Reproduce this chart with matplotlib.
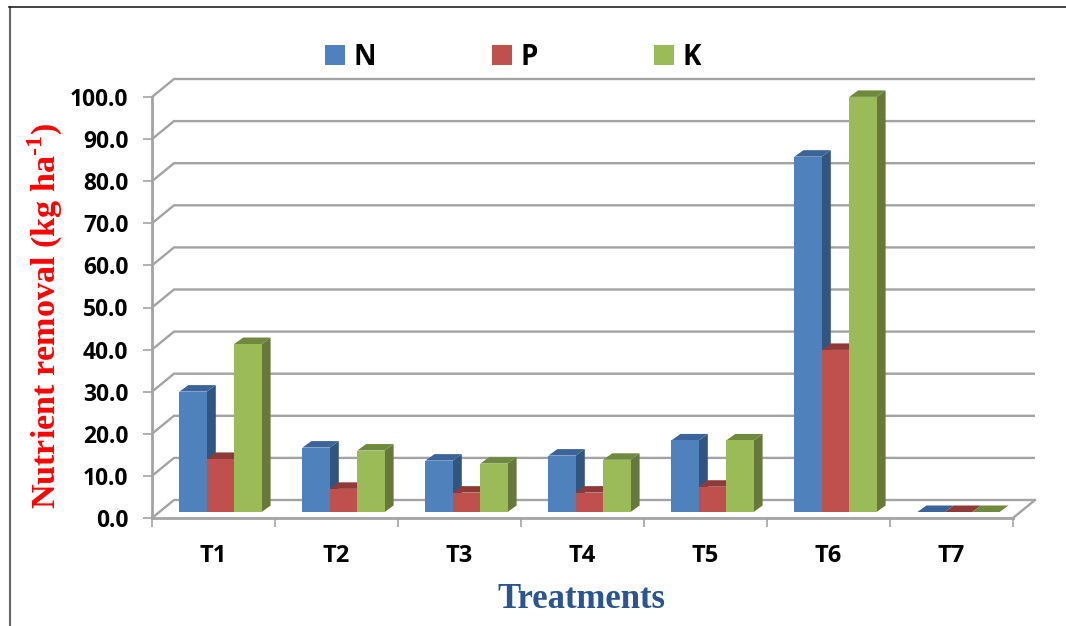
# Nutrient removal chart, drawn as a fake 3D column chart
import matplotlib
matplotlib.use('Agg')
import numpy as np
import matplotlib.pyplot as plt
from matplotlib.lines import Line2D
from matplotlib.patches import Patch

# DATA
treatments = ['T1', 'T2', 'T3', 'T4', 'T5', 'T6', 'T7']
n_values = [28.6, 15.3, 12.2, 13.4, 17.0, 84.4, 0.0]
p_values = [12.6, 5.5, 4.6, 4.6, 6.0, 38.5, 0.0]
k_values = [39.9, 14.6, 11.5, 12.4, 17.0, 98.6, 0.0]
y_ticks = [0, 10, 20, 30, 40, 50, 60, 70, 80, 90, 100]

# LAYOUT (pixels of the 1066x626 picture)
W, H = 1066, 626
LEFT, RIGHT, BOTTOM, TOP = 152, 1013, 518, 97
PX_X = 7 / (RIGHT - LEFT)    # data units per pixel along x
PX_Y = 100 / (BOTTOM - TOP)  # data units per pixel along y

wall_dx, wall_dy = 22 * PX_X, 18 * PX_Y  # depth of the walls
bar_dx, bar_dy = 9 * PX_X, 6.5 * PX_Y    # depth of the bars
start_dx, start_dy = 7 * PX_X, 6 * PX_Y  # bars stand a bit behind the front edge
bar_w = 27.4 * PX_X

GREY = '#a3a3a3'
series = [
    ('N', n_values, '#4f81bd', '#32557f', '#3b659a'),
    ('P', p_values, '#c0504d', '#8a3836', '#8f3a38'),
    ('K', k_values, '#9bbb59', '#66793a', '#6f8a3f'),
]

plt.rcParams['font.family'] = ['Open Sans', 'DejaVu Sans']
plt.rcParams['mathtext.fontset'] = 'custom'
plt.rcParams['mathtext.bf'] = 'Liberation Serif:bold'
plt.rcParams['mathtext.rm'] = 'Liberation Serif:bold'

fig = plt.figure(figsize=(W / 100, H / 100), dpi=100)
ax = fig.add_axes([LEFT / W, (H - BOTTOM) / H, (RIGHT - LEFT) / W, (BOTTOM - TOP) / H])
ax.set_xlim(0, 7)
ax.set_ylim(0, 100)
ax.patch.set_visible(False)

# WALLS AND FLOOR
for v in y_ticks:
    ax.plot([0, wall_dx, 7 + wall_dx], [v, v + wall_dy, v + wall_dy],
            color=GREY, lw=1.7, clip_on=False, zorder=1, solid_capstyle='butt')
ax.plot([7, 7 + wall_dx], [0, wall_dy], color=GREY, lw=1.7, clip_on=False, zorder=1)

# BARS
x = np.arange(len(treatments))
z = 2
for j, (name, values, front, side, top) in enumerate(series):
    for i, v in enumerate(values):
        x0 = x[i] + 0.5 + start_dx + (j - 1.5) * bar_w
        x1 = x0 + bar_w
        y0 = start_dy
        y1 = start_dy + v
        # заливки боковой и верхней граней
        ax.fill([x1, x1 + bar_dx, x1 + bar_dx, x1],
                [y0, y0 + bar_dy, y1 + bar_dy, y1],
                color=side, lw=0, clip_on=False, zorder=z + i * 3)
        ax.fill([x0, x1, x1 + bar_dx, x0 + bar_dx],
                [y1, y1, y1 + bar_dy, y1 + bar_dy],
                color=top, lw=0, clip_on=False, zorder=z + i * 3 + j * 0.1)
        ax.bar(x0, v, bar_w, bottom=y0, align='edge', color=front, lw=0,
               clip_on=False, zorder=z + i * 3 + 1 + j * 0.1)

# AXES
for s in ['top', 'right']:
    ax.spines[s].set_visible(False)
for s in ['left', 'bottom']:
    ax.spines[s].set_color(GREY)
    ax.spines[s].set_linewidth(2)

ax.set_yticks(y_ticks)
ax.set_yticklabels([f'{v:.1f}' for v in y_ticks], fontsize=16.4, fontweight='bold')
ax.tick_params(axis='y', length=6.5, width=1.2, color=GREY, pad=10.5)
ax.set_xticks(np.arange(8))
ax.set_xticklabels([])
ax.set_xticks(x + 0.5, labels=treatments, minor=True, fontsize=17, fontweight='bold')
ax.tick_params(axis='x', which='major', length=6.5, width=1.2, color=GREY)
ax.tick_params(axis='x', which='minor', length=0, pad=18.5)

# TEXT
fig.text(581 / W, 1 - 600 / H, 'Treatments', family='Liberation Serif', fontweight='bold',
         fontsize=25, color='#2a5590', ha='center', va='center')
fig.text(45 / W, 1 - 316 / H, r'Nutrient removal (kg ha$^{\text{-}1}$)', family='Liberation Serif',
         fontweight='bold', fontsize=24.6, color='#ff0000', rotation=90, ha='center', va='center')

# LEGEND
handles = [Patch(facecolor=s[2], edgecolor='none') for s in series]
fig.legend(handles, [s[0] for s in series], ncol=3, frameon=False,
           loc='center left', bbox_to_anchor=(299.5 / W, 1 - 57.5 / H),
           prop={'family': 'Open Sans', 'weight': 'bold', 'size': 20},
           handlelength=0.72, handleheight=0.72, handletextpad=0.32, columnspacing=4.17)

# FRAME
fig.add_artist(Line2D([9.5 / W, 9.5 / W], [0, 1 - 7 / H], color='#666666', lw=1.5))
fig.add_artist(Line2D([9 / W, 1], [1 - 7 / H, 1 - 7 / H], color='#222222', lw=1.2))

fig.savefig('out.png', dpi=100)
